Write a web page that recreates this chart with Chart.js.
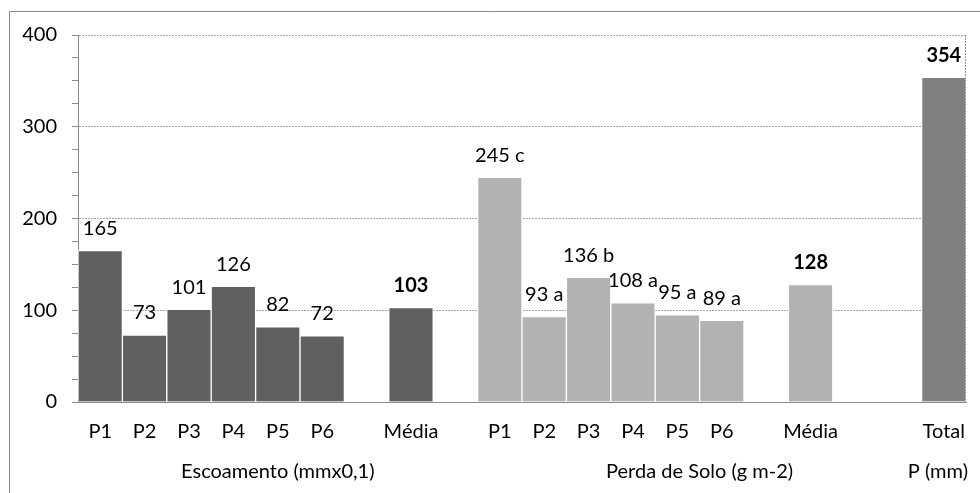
<!DOCTYPE html>
<html>
<head>
<meta charset="utf-8">
<script src="https://cdn.jsdelivr.net/npm/chart.js@4/dist/chart.umd.min.js"></script>
<style>
  body { margin: 0; background: #fff; }
  canvas { display: block; }
</style>
</head>
<body>
<canvas id="grafica" width="980" height="493"></canvas>
<script>
// Dados
const parcelas = ['P1', 'P2', 'P3', 'P4', 'P5', 'P6'];
const escoamento = [165, 73, 101, 126, 82, 72];
const escoamentoMedia = 103;
const perdaSolo = [245, 93, 136, 108, 95, 89];
const perdaLetras = ['c', 'a', 'b', 'a', 'a', 'a'];
const perdaMedia = 128;
const precipitacao = 354;
const yTicks = [0, 100, 200, 300, 400];
const grupos = ['Escoamento (mmx0,1)', 'Perda de Solo (g m-2)', 'P (mm)'];

// Monta as categorias com os espaços vazios entre grupos
const labels = [...parcelas, '', 'Média', '', ...parcelas, '', 'Média', '', '', 'Total'];
const n = labels.length;
const vazio = () => new Array(n).fill(null);

const dataEsc = vazio();
escoamento.forEach((v, i) => dataEsc[i] = v);
dataEsc[7] = escoamentoMedia;

const dataPerda = vazio();
perdaSolo.forEach((v, i) => dataPerda[9 + i] = v);
dataPerda[16] = perdaMedia;

const dataP = vazio();
dataP[19] = precipitacao;

const textoRotulo = vazio();
escoamento.forEach((v, i) => textoRotulo[i] = String(v));
textoRotulo[7] = String(escoamentoMedia);
perdaSolo.forEach((v, i) => textoRotulo[9 + i] = v + ' ' + perdaLetras[i]);
textoRotulo[16] = String(perdaMedia);
textoRotulo[19] = String(precipitacao);
const negrito = [7, 16, 19];

// grupos: [inicio, fim] em índices de categoria
const faixas = [[0, 8], [9, 18], [19, 19]];

const FONTE = 'Lato, "Open Sans", sans-serif';
const TAM = 20;

const extras = {
    id: 'extras',
    beforeDraw(chart) {
        const ctx = chart.ctx;
        ctx.save();
        ctx.strokeStyle = '#8c8c8c';
        ctx.lineWidth = 1;
        ctx.beginPath();
        ctx.moveTo(9.5, 493);
        ctx.lineTo(9.5, 11.5);
        ctx.lineTo(980, 11.5);
        ctx.stroke();
        ctx.restore();
    },
    afterDraw(chart) {
        const ctx = chart.ctx;
        const area = chart.chartArea;
        const x = chart.scales.x;
        ctx.save();
        // borda direita da área de plotagem
        ctx.strokeStyle = '#9a9a9a';
        ctx.setLineDash([2, 1]);
        ctx.beginPath();
        ctx.moveTo(Math.round(area.right) - 0.5, area.top);
        ctx.lineTo(Math.round(area.right) - 0.5, area.bottom);
        ctx.stroke();
        ctx.setLineDash([]);

        // rótulos de dados
        ctx.fillStyle = '#000';
        ctx.textAlign = 'center';
        ctx.textBaseline = 'middle';
        chart.data.datasets.forEach((ds, di) => {
            chart.getDatasetMeta(di).data.forEach((bar, i) => {
                if (ds.data[i] == null) return;
                ctx.font = (negrito.includes(i) ? 'bold ' : '') + TAM + 'px ' + FONTE;
                ctx.fillText(textoRotulo[i], bar.x, bar.y - 22);
            });
        });

        // rótulos dos grupos
        ctx.font = TAM + 'px ' + FONTE;
        faixas.forEach((f, g) => {
            let cx = (x.getPixelForValue(f[0]) + x.getPixelForValue(f[1])) / 2;
            const w = ctx.measureText(grupos[g]).width;
            if (cx + w / 2 > area.right + 2) cx = area.right + 2 - w / 2;
            ctx.fillText(grupos[g], cx, 472);
        });
        ctx.restore();
    }
};

const ctxGrafica = document.getElementById('grafica').getContext('2d');
const grafica = new Chart(ctxGrafica, {
    type: 'bar',
    data: {
        labels: labels,
        datasets: [{
            label: 'Escoamento',
            data: dataEsc,
            backgroundColor: '#606060',
            borderColor: '#ffffff',
            borderWidth: 1
        }, {
            label: 'Perda de Solo',
            data: dataPerda,
            backgroundColor: '#b2b2b2',
            borderColor: '#ffffff',
            borderWidth: 1
        }, {
            label: 'P (mm)',
            data: dataP,
            backgroundColor: '#808080',
            borderColor: '#ffffff',
            borderWidth: 1
        }]
    },
    options: {
        responsive: false,
        devicePixelRatio: 1,
        animation: false,
        layout: { padding: { left: 0, top: 35, right: 14, bottom: 0 } },
        plugins: {
            legend: { display: false },
            tooltip: { enabled: false }
        },
        datasets: {
            bar: { categoryPercentage: 1, barPercentage: 1 }
        },
        scales: {
            x: {
                stacked: true,
                grid: { display: false },
                border: { display: true, color: '#8c8c8c' },
                ticks: {
                    autoSkip: false,
                    maxRotation: 0,
                    padding: 10,
                    color: '#000',
                    font: { family: FONTE, size: TAM }
                },
                afterFit(scale) { scale.height = 91; }
            },
            y: {
                stacked: true,
                min: 0,
                max: 400,
                grid: {
                    color: c => yTicks.includes(c.tick.value) ? '#a6a6a6' : 'transparent',
                    tickColor: '#8c8c8c',
                    tickLength: 6,
                    drawTicks: true
                },
                border: { display: true, color: '#8c8c8c', dash: [2, 1] },
                ticks: {
                    stepSize: 25,
                    autoSkip: false,
                    padding: 15,
                    color: '#000',
                    font: { family: FONTE, size: TAM },
                    callback: v => yTicks.includes(v) ? v : ''
                },
                afterFit(scale) { scale.width = 78; }
            }
        }
    },
    plugins: [extras]
});
</script>
</body>
</html>
